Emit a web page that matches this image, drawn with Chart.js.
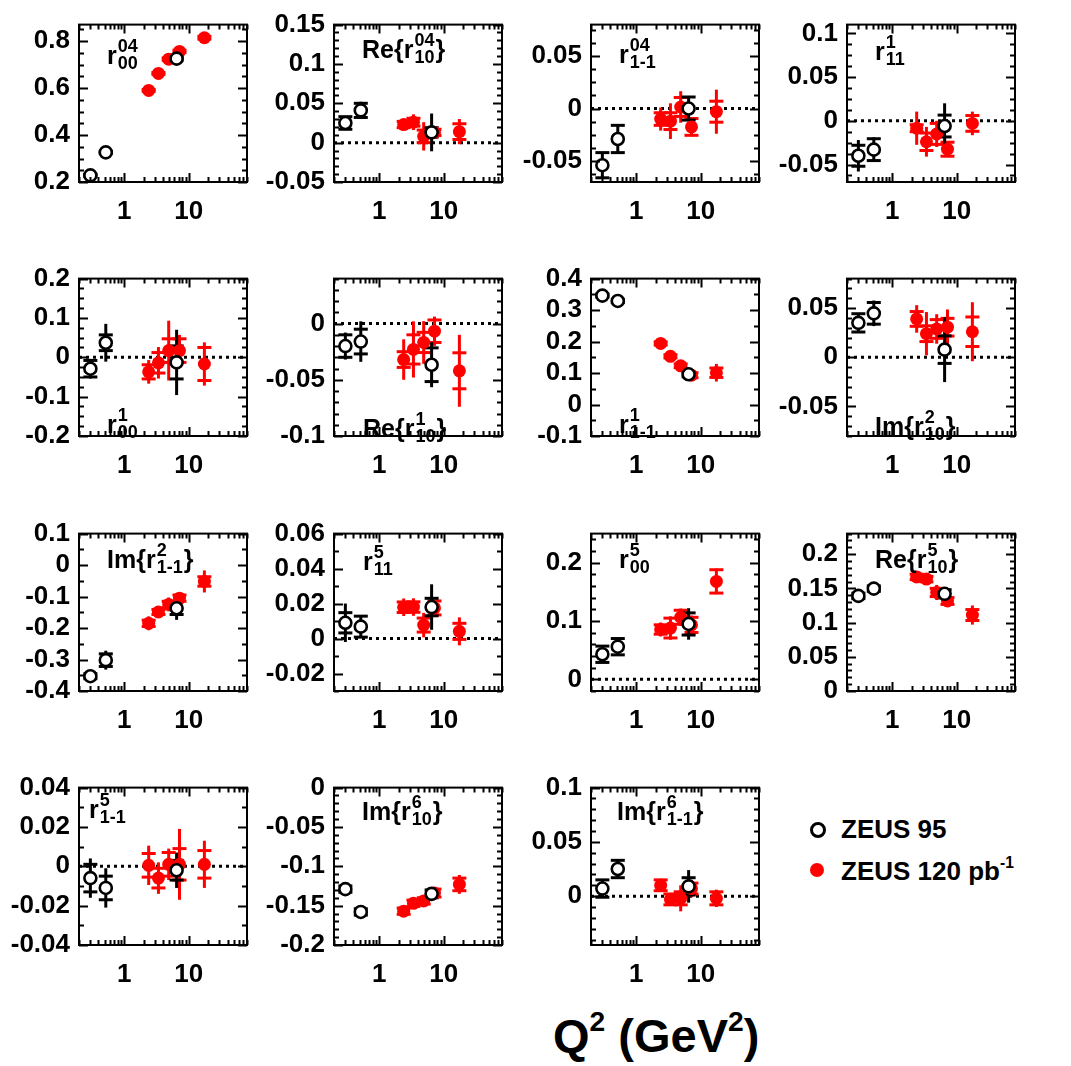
<!DOCTYPE html>
<html>
<head>
<meta charset="utf-8">
<script src="https://cdn.jsdelivr.net/npm/chart.js@4.4.1/dist/chart.umd.min.js"></script>
<style>
  body { margin: 0; background: #fff; }
  #page { position: relative; width: 1071px; height: 1066px; overflow: hidden; font-family: "Liberation Sans", Arial, sans-serif; font-weight: bold; color: #000; }
  canvas { position: absolute; }
  .leg-text { position: absolute; font-size: 26px; line-height: 30px; white-space: nowrap; }
  .leg-mark { position: absolute; width: 10px; height: 10px; border-radius: 50%; }
  .title { position: absolute; font-size: 47px; line-height: 52px; white-space: nowrap; }
  sup { font-size: 0.6em; position: relative; top: -0.15em; line-height: 0; }
</style>
</head>
<body>
<div id="page">
  <div class="leg-mark" style="left:810px; top:822px; border:3px solid #000; background:#fff;"></div>
  <div class="leg-text" style="left:841px; top:814px;">ZEUS 95</div>
  <div class="leg-mark" style="left:810px; top:863px; width:14px; height:14px; background:#ff0000;"></div>
  <div class="leg-text" style="left:841px; top:856px;">ZEUS 120 pb<sup>-1</sup></div>
  <div class="title" style="left:553px; top:1010px;">Q<sup>2</sup> (GeV<sup>2</sup>)</div>
</div>
<script>
// Q2 bin centres (GeV^2)
const q2Zeus95 = [0.3, 0.52, 6.5];
const q2Zeus120 = [2.4, 3.4, 4.9, 7.2, 17.5];

// panel titles: [prefix, superscript, subscript, suffix]
const panelTitles = [
  ["", "04", "00", ""],
  ["Re{", "04", "10", "}"],
  ["", "04", "1-1", ""],
  ["", "1", "11", ""],
  ["", "1", "00", ""],
  ["Re{", "1", "10", "}"],
  ["", "1", "1-1", ""],
  ["Im{", "2", "10", "}"],
  ["Im{", "2", "1-1", "}"],
  ["", "5", "11", ""],
  ["", "5", "00", ""],
  ["Re{", "5", "10", "}"],
  ["", "5", "1-1", ""],
  ["Im{", "6", "10", "}"],
  ["Im{", "6", "1-1", "}"],
];

// y axis ranges and label steps
const yMin = [0.2, -0.05, -0.07, -0.07, -0.2, -0.1, -0.1, -0.08, -0.4, -0.03, -0.02, 0, -0.04, -0.2, -0.045];
const yMax = [0.87, 0.15, 0.08, 0.11, 0.2, 0.04, 0.4, 0.08, 0.1, 0.06, 0.25, 0.23, 0.04, 0, 0.1];
const yStep = [0.2, 0.05, 0.05, 0.05, 0.1, 0.05, 0.1, 0.05, 0.1, 0.02, 0.1, 0.05, 0.02, 0.05, 0.05];

// ZEUS 95: values, stat errors, total errors
const zeus95Val = [
  [0.228, 0.326, 0.725],
  [0.025, 0.041, 0.013],
  [-0.054, -0.029, 0.0],
  [-0.04, -0.033, -0.006],
  [-0.029, 0.037, -0.013],
  [-0.02, -0.016, -0.0366],
  [0.346, 0.329, 0.096],
  [0.035, 0.0447, 0.0078],
  [-0.353, -0.302, -0.137],
  [0.009, 0.0068, 0.018],
  [0.043, 0.056, 0.095],
  [0.139, 0.1496, 0.142],
  [-0.006, -0.011, -0.002],
  [-0.129, -0.158, -0.135],
  [0.007, 0.025, 0.009],
];
const zeus95Stat = [
  [0.004, 0.004, 0.006],
  [0.008, 0.009, 0.006],
  [0.012, 0.013, 0.011],
  [0.012, 0.0125, 0.0125],
  [0.021, 0.02, 0.042],
  [0.01, 0.011, 0.015],
  [0.005, 0.005, 0.008],
  [0.0093, 0.011, 0.014],
  [0.008, 0.02, 0.02],
  [0.0058, 0.006, 0.005],
  [0.014, 0.014, 0.019],
  [0.004, 0.004, 0.006],
  [0.007, 0.006, 0.005],
  [0.004, 0.004, 0.005],
  [0.008, 0.008, 0.008],
];
const zeus95Tot = [
  [0.006, 0.006, 0.01],
  [0.008, 0.011, 0.024],
  [0.012, 0.013, 0.012],
  [0.018, 0.014, 0.026],
  [0.025, 0.048, 0.083],
  [0.012, 0.018, 0.02],
  [0.006, 0.006, 0.01],
  [0.01, 0.013, 0.033],
  [0.01, 0.03, 0.037],
  [0.011, 0.006, 0.013],
  [0.015, 0.015, 0.027],
  [0.008, 0.005, 0.008],
  [0.01, 0.01, 0.009],
  [0.005, 0.005, 0.008],
  [0.008, 0.008, 0.015],
];

// ZEUS 120 pb-1: values, stat errors, total errors
const zeus120Val = [
  [0.59, 0.662, 0.723, 0.756, 0.814],
  [0.023, 0.026, 0.008, 0.013, 0.014],
  [-0.01, -0.012, 0.0015, -0.0175, -0.003],
  [-0.0085, -0.024, -0.015, -0.0325, -0.003],
  [-0.037, -0.014, 0.017, 0.017, -0.017],
  [-0.032, -0.023, -0.0168, -0.0068, -0.042],
  [0.194, 0.153, 0.123, 0.093, 0.101],
  [0.039, 0.024, 0.0288, 0.0306, 0.026],
  [-0.185, -0.149, -0.125, -0.105, -0.052],
  [0.0179, 0.018, 0.0077, 0.0175, 0.0041],
  [0.0855, 0.088, 0.1065, 0.0934, 0.168],
  [0.1667, 0.1635, 0.144, 0.1315, 0.111],
  [0.0005, -0.006, 0.001, 0.001, 0.001],
  [-0.157, -0.147, -0.144, -0.134, -0.123],
  [0.01, -0.003, -0.002, 0.007, -0.002],
];
const zeus120Stat = [
  [0.004, 0.004, 0.005, 0.005, 0.006],
  [0.004, 0.005, 0.008, 0.004, 0.01],
  [0.006, 0.008, 0.009, 0.008, 0.01],
  [0.004, 0.01, 0.012, 0.008, 0.009],
  [0.018, 0.026, 0.03, 0.03, 0.042],
  [0.007, 0.013, 0.009, 0.01, 0.016],
  [0.005, 0.005, 0.006, 0.008, 0.015],
  [0.0075, 0.008, 0.0095, 0.009, 0.015],
  [0.01, 0.008, 0.01, 0.01, 0.015],
  [0.003, 0.003, 0.004, 0.004, 0.0046],
  [0.008, 0.017, 0.012, 0.013, 0.02],
  [0.004, 0.004, 0.006, 0.005, 0.008],
  [0.006, 0.005, 0.006, 0.008, 0.007],
  [0.004, 0.004, 0.004, 0.005, 0.008],
  [0.005, 0.005, 0.006, 0.005, 0.006],
];
const zeus120Tot = [
  [0.008, 0.008, 0.008, 0.008, 0.01],
  [0.005, 0.01, 0.018, 0.006, 0.016],
  [0.011, 0.017, 0.015, 0.009, 0.021],
  [0.019, 0.017, 0.015, 0.009, 0.0135],
  [0.03, 0.04, 0.076, 0.04, 0.055],
  [0.018, 0.025, 0.019, 0.013, 0.032],
  [0.008, 0.008, 0.01, 0.015, 0.028],
  [0.014, 0.022, 0.015, 0.018, 0.03],
  [0.022, 0.012, 0.022, 0.015, 0.035],
  [0.005, 0.005, 0.007, 0.004, 0.008],
  [0.012, 0.02, 0.015, 0.016, 0.022],
  [0.005, 0.005, 0.011, 0.006, 0.014],
  [0.01, 0.008, 0.008, 0.018, 0.012],
  [0.005, 0.005, 0.006, 0.007, 0.012],
  [0.006, 0.006, 0.012, 0.008, 0.008],
];

// layout
const COL_LEFT = [79, 334, 591, 847];
const ROW_TOP = [10, 264, 519, 773];
const PLOT_W = 172;
const PLOT_H = 172;
const AXIS_W = 90;
const AXIS_H = 50;
const FONT = "\"Liberation Sans\", Arial, sans-serif";
const RED = "#ff0000";

const zeroLine = [false, true, true, true, true, true, false, true, false, true, true, false, true, false, true];
const minorDiv = [4, 5, 4, 4, 4, 5, 2, 5, 2, 2, 5, 5, 2, 5, 5];
const titlePos = [
  [28, 39], [28, 33], [28, 38], [28, 35],
  [28, 154], [29, 158], [28, 154], [28, 156],
  [28, 34], [29, 36], [28, 34], [28, 34],
  [10, 30], [28, 32], [26, 32],
];

function fmt(v) {
  return String(+v.toFixed(3));
}

// major y tick values: multiples of the step inside the range
function majorTicks(p) {
  const out = [];
  const k0 = Math.ceil(yMin[p] / yStep[p] - 1e-6);
  const k1 = Math.floor(yMax[p] / yStep[p] + 1e-6);
  for (let k = k0; k <= k1; k++) {
    out.push(+(k * yStep[p]).toFixed(4));
  }
  return out;
}

function drawTitle(ctx, x, y, parts) {
  const [pre, sup, sub, post] = parts;
  ctx.fillStyle = "#000";
  ctx.textBaseline = "alphabetic";
  ctx.textAlign = "left";
  ctx.font = `bold 25px ${FONT}`;
  let cx = x;
  ctx.fillText(pre, cx, y);
  cx += ctx.measureText(pre).width;
  ctx.fillText("r", cx, y);
  cx += ctx.measureText("r").width + 1;
  ctx.font = `bold 18px ${FONT}`;
  ctx.fillText(sup, cx, y - 12);
  ctx.fillText(sub, cx, y + 5);
  cx += Math.max(ctx.measureText(sup).width, ctx.measureText(sub).width) + 1;
  ctx.font = `bold 25px ${FONT}`;
  ctx.fillText(post, cx, y);
}

const panelPlugin = {
  id: "panelDecor",
  beforeDatasetsDraw(chart) {
    const p = chart.options.panelIndex;
    const ctx = chart.ctx;
    const { left, right } = chart.chartArea;
    const xs = chart.scales.x;
    const ys = chart.scales.y;
    ctx.save();
    if (zeroLine[p]) {
      const y0 = ys.getPixelForValue(0);
      ctx.strokeStyle = "#000";
      ctx.lineWidth = 3;
      ctx.setLineDash([3, 4]);
      ctx.beginPath();
      ctx.moveTo(left, y0);
      ctx.lineTo(right, y0);
      ctx.stroke();
      ctx.setLineDash([]);
    }
    const series = [
      [q2Zeus120, zeus120Val[p], zeus120Stat[p], zeus120Tot[p], RED],
      [q2Zeus95, zeus95Val[p], zeus95Stat[p], zeus95Tot[p], "#000"],
    ];
    series.forEach(([qs, vals, stat, tot, color]) => {
      ctx.strokeStyle = color;
      ctx.lineWidth = 3;
      vals.forEach((v, i) => {
        const px = xs.getPixelForValue(qs[i]);
        ctx.beginPath();
        ctx.moveTo(px, ys.getPixelForValue(v + tot[i]));
        ctx.lineTo(px, ys.getPixelForValue(v - tot[i]));
        ctx.stroke();
        [v + stat[i], v - stat[i]].forEach((e) => {
          const py = ys.getPixelForValue(e);
          ctx.beginPath();
          ctx.moveTo(px - 7, py);
          ctx.lineTo(px + 7, py);
          ctx.stroke();
        });
      });
    });
    ctx.restore();
  },
  afterDatasetsDraw(chart) {
    const p = chart.options.panelIndex;
    const ctx = chart.ctx;
    const { left, right, top, bottom } = chart.chartArea;
    const xs = chart.scales.x;
    const ys = chart.scales.y;
    ctx.save();
    ctx.strokeStyle = "#000";
    ctx.lineWidth = 2;
    ctx.strokeRect(left, top, right - left, bottom - top);

    // y ticks inside both sides
    const minor = yStep[p] / minorDiv[p];
    const k0 = Math.ceil(yMin[p] / minor - 1e-6);
    const k1 = Math.floor(yMax[p] / minor + 1e-6);
    ctx.beginPath();
    for (let k = k0; k <= k1; k++) {
      const py = Math.round(ys.getPixelForValue(k * minor)) + 0.5;
      const len = k % minorDiv[p] === 0 ? 9 : 5;
      ctx.moveTo(left, py);
      ctx.lineTo(left + len, py);
      ctx.moveTo(right, py);
      ctx.lineTo(right - len, py);
    }
    // log x ticks top and bottom
    [0.1, 1, 10].forEach((d) => {
      for (let m = 1; m <= 9; m++) {
        const v = m * d;
        if (v < xs.min || v > xs.max) continue;
        const px = Math.round(xs.getPixelForValue(v)) + 0.5;
        const len = m === 1 ? 9 : 5;
        ctx.moveTo(px, bottom);
        ctx.lineTo(px, bottom - len);
        ctx.moveTo(px, top);
        ctx.lineTo(px, top + len);
      }
    });
    ctx.stroke();

    drawTitle(ctx, left + titlePos[p][0], top + titlePos[p][1], panelTitles[p]);
    ctx.restore();
  },
};

const page = document.getElementById("page");

panelTitles.forEach((_, p) => {
  const col = p % 4;
  const row = Math.floor(p / 4);
  const canvas = document.createElement("canvas");
  canvas.width = PLOT_W + AXIS_W + 10;
  canvas.height = PLOT_H + AXIS_H + 10;
  canvas.style.left = `${COL_LEFT[col] - AXIS_W}px`;
  canvas.style.top = `${ROW_TOP[row] - 10}px`;
  page.appendChild(canvas);

  const tickFont = { family: FONT, size: 26, weight: "bold" };

  new Chart(canvas, {
    type: "scatter",
    data: {
      datasets: [
        {
          label: "ZEUS 95",
          data: q2Zeus95.map((q, i) => ({ x: q, y: zeus95Val[p][i] })),
          pointStyle: "circle",
          pointRadius: 6,
          pointBackgroundColor: "#fff",
          pointBorderColor: "#000",
          pointBorderWidth: 2.6,
          clip: false,
        },
        {
          label: "ZEUS 120 pb-1",
          data: q2Zeus120.map((q, i) => ({ x: q, y: zeus120Val[p][i] })),
          pointStyle: "circle",
          pointRadius: 6.5,
          pointBackgroundColor: RED,
          pointBorderColor: RED,
          pointBorderWidth: 0,
          clip: false,
        },
      ],
    },
    options: {
      panelIndex: p,
      responsive: false,
      animation: false,
      devicePixelRatio: 1,
      events: [],
      layout: { padding: { left: 0, top: 10, right: 10, bottom: 0 } },
      plugins: { legend: { display: false }, tooltip: { enabled: false } },
      scales: {
        x: {
          type: "logarithmic",
          min: 0.2,
          max: 80,
          grid: { display: false, drawTicks: false },
          border: { display: false },
          ticks: {
            autoSkip: false,
            maxRotation: 0,
            padding: 14,
            color: "#000",
            font: tickFont,
            callback: (v) => (v === 1 ? "1" : v === 10 ? "10" : ""),
          },
          afterFit: (s) => {
            s.height = AXIS_H;
          },
        },
        y: {
          min: yMin[p],
          max: yMax[p],
          grid: { display: false, drawTicks: false },
          border: { display: false },
          ticks: {
            autoSkip: false,
            padding: 9,
            color: "#000",
            font: tickFont,
            callback: (v) => fmt(v),
          },
          afterBuildTicks: (s) => {
            s.ticks = majorTicks(p).map((v) => ({ value: v }));
          },
          afterFit: (s) => {
            s.width = AXIS_W;
          },
        },
      },
    },
    plugins: [panelPlugin],
  });
});
</script>
</body>
</html>
